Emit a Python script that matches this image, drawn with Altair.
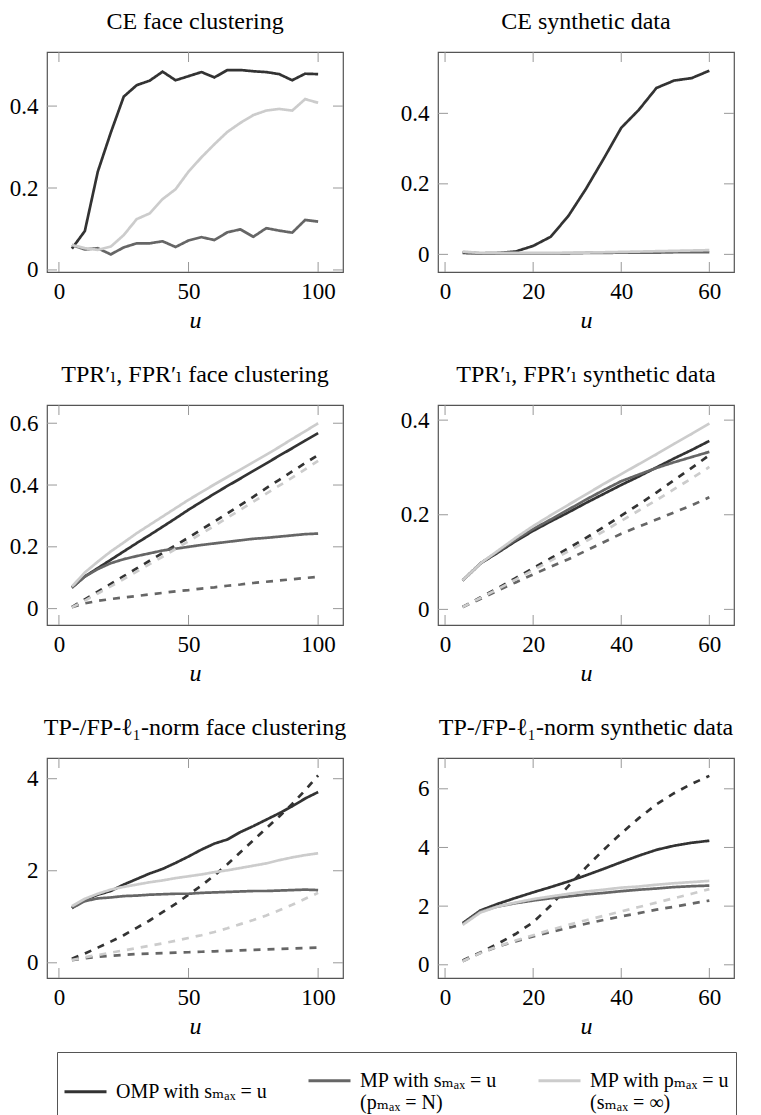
import altair as alt
import pandas as pd

SERIF = "Liberation Serif, DejaVu Serif, Noto Serif, serif"

# ---------------- categories ----------------
METHODS = [
    "OMP with sₘₐₓ = u",
    "MP with sₘₐₓ = u|\u00a0\u00a0\u00a0\u00a0\u00a0\u00a0\u00a0(pₘₐₓ = N)",
    "MP with pₘₐₓ = u|\u00a0\u00a0\u00a0\u00a0\u00a0\u00a0\u00a0(sₘₐₓ = ∞)",
]
COLORS = ["#333333", "#666666", "#cccccc"]
METRICS = ["TP", "FP"]

# ---------------- x values ----------------
u_face = [5, 10, 15, 20, 25, 30, 35, 40, 45, 50, 55, 60, 65, 70, 75, 80, 85, 90, 95, 100]
u_syn = [4, 8, 12, 16, 20, 24, 28, 32, 36, 40, 44, 48, 52, 56, 60]

# ---------------- CE face clustering ----------------
ce_face_omp = [0.052, 0.095, 0.240, 0.335, 0.423, 0.451, 0.462, 0.484, 0.463, 0.473,
               0.483, 0.470, 0.488, 0.488, 0.485, 0.483, 0.478, 0.463, 0.479, 0.478]
ce_face_mps = [0.061, 0.050, 0.053, 0.038, 0.055, 0.065, 0.065, 0.070, 0.056, 0.072,
               0.080, 0.073, 0.092, 0.099, 0.081, 0.102, 0.096, 0.091, 0.122, 0.118]
ce_face_mpp = [0.061, 0.053, 0.049, 0.057, 0.085, 0.124, 0.138, 0.173, 0.197, 0.240,
               0.275, 0.307, 0.337, 0.359, 0.378, 0.389, 0.393, 0.389, 0.417, 0.408]

# ---------------- CE synthetic data ----------------
ce_syn_omp = [0.004, 0.003, 0.004, 0.008, 0.024, 0.050, 0.109, 0.186, 0.271, 0.359,
              0.410, 0.472, 0.493, 0.500, 0.521]
ce_syn_mps = [0.006, 0.003, 0.003, 0.003, 0.003, 0.003, 0.003, 0.004, 0.004, 0.005,
              0.005, 0.005, 0.006, 0.006, 0.006]
ce_syn_mpp = [0.008, 0.004, 0.004, 0.004, 0.004, 0.004, 0.005, 0.005, 0.006, 0.007,
              0.008, 0.009, 0.010, 0.011, 0.012]

# ---------------- TPR / FPR face clustering ----------------
tpr_face_omp = [0.068, 0.104, 0.131, 0.158, 0.185, 0.212, 0.238, 0.265, 0.292, 0.320,
                0.346, 0.372, 0.397, 0.421, 0.446, 0.470, 0.495, 0.519, 0.544, 0.568]
tpr_face_mps = [0.068, 0.104, 0.128, 0.147, 0.160, 0.170, 0.179, 0.188, 0.194, 0.200,
                0.206, 0.211, 0.216, 0.221, 0.226, 0.229, 0.233, 0.237, 0.241, 0.243]
tpr_face_mpp = [0.071, 0.117, 0.152, 0.185, 0.214, 0.244, 0.271, 0.298, 0.325, 0.352,
                0.377, 0.402, 0.426, 0.450, 0.474, 0.498, 0.523, 0.549, 0.574, 0.600]
fpr_face_omp = [0.005, 0.030, 0.055, 0.080, 0.105, 0.130, 0.155, 0.180, 0.205, 0.230,
                0.256, 0.282, 0.308, 0.335, 0.362, 0.390, 0.417, 0.444, 0.471, 0.497]
fpr_face_mps = [0.005, 0.017, 0.025, 0.031, 0.036, 0.041, 0.046, 0.051, 0.056, 0.060,
                0.065, 0.069, 0.074, 0.078, 0.083, 0.087, 0.091, 0.095, 0.099, 0.103]
fpr_face_mpp = [0.004, 0.026, 0.049, 0.072, 0.096, 0.120, 0.144, 0.168, 0.193, 0.218,
                0.243, 0.268, 0.294, 0.320, 0.346, 0.372, 0.398, 0.424, 0.451, 0.478]

# ---------------- TPR / FPR synthetic data ----------------
tpr_syn_omp = [0.061, 0.097, 0.120, 0.144, 0.166, 0.186, 0.205, 0.225, 0.244, 0.263,
               0.281, 0.300, 0.319, 0.337, 0.356]
tpr_syn_mps = [0.061, 0.097, 0.122, 0.147, 0.170, 0.190, 0.211, 0.232, 0.252, 0.271,
               0.285, 0.299, 0.311, 0.322, 0.333]
tpr_syn_mpp = [0.061, 0.097, 0.124, 0.151, 0.176, 0.199, 0.221, 0.243, 0.265, 0.286,
               0.307, 0.328, 0.350, 0.371, 0.393]
fpr_syn_omp = [0.005, 0.025, 0.045, 0.066, 0.087, 0.108, 0.129, 0.151, 0.174, 0.198,
               0.222, 0.247, 0.273, 0.299, 0.326]
fpr_syn_mps = [0.005, 0.022, 0.040, 0.057, 0.074, 0.090, 0.106, 0.124, 0.142, 0.160,
               0.175, 0.190, 0.205, 0.220, 0.237]
fpr_syn_mpp = [0.005, 0.024, 0.043, 0.063, 0.083, 0.103, 0.123, 0.144, 0.165, 0.187,
               0.209, 0.231, 0.254, 0.277, 0.301]

# ---------------- TP-/FP-l1-norm face clustering ----------------
tp_face_omp = [1.19, 1.37, 1.48, 1.56, 1.70, 1.82, 1.94, 2.04, 2.17, 2.31,
               2.46, 2.59, 2.68, 2.84, 2.97, 3.11, 3.25, 3.40, 3.57, 3.71]
tp_face_mps = [1.19, 1.34, 1.40, 1.42, 1.45, 1.46, 1.48, 1.49, 1.50, 1.50,
               1.52, 1.53, 1.54, 1.55, 1.56, 1.56, 1.57, 1.58, 1.59, 1.58]
tp_face_mpp = [1.23, 1.39, 1.50, 1.59, 1.65, 1.70, 1.75, 1.79, 1.84, 1.88,
               1.92, 1.97, 2.01, 2.06, 2.11, 2.16, 2.23, 2.29, 2.34, 2.38]
fp_face_omp = [0.09, 0.20, 0.33, 0.46, 0.60, 0.76, 0.92, 1.10, 1.28, 1.48,
               1.68, 1.90, 2.14, 2.40, 2.66, 2.92, 3.18, 3.45, 3.75, 4.07]
fp_face_mps = [0.06, 0.10, 0.13, 0.15, 0.17, 0.19, 0.20, 0.21, 0.22, 0.23,
               0.24, 0.25, 0.26, 0.27, 0.28, 0.29, 0.30, 0.31, 0.32, 0.33]
fp_face_mpp = [0.06, 0.12, 0.17, 0.22, 0.27, 0.32, 0.37, 0.42, 0.48, 0.54,
               0.60, 0.67, 0.75, 0.84, 0.93, 1.03, 1.14, 1.26, 1.39, 1.52]

# ---------------- TP-/FP-l1-norm synthetic data ----------------
tp_syn_omp = [1.42, 1.85, 2.08, 2.28, 2.47, 2.65, 2.84, 3.05, 3.27, 3.50,
              3.72, 3.92, 4.06, 4.16, 4.23]
tp_syn_mps = [1.39, 1.82, 1.99, 2.10, 2.19, 2.27, 2.33, 2.40, 2.45, 2.51,
              2.56, 2.60, 2.65, 2.68, 2.70]
tp_syn_mpp = [1.36, 1.78, 1.99, 2.12, 2.24, 2.33, 2.42, 2.50, 2.56, 2.63,
              2.67, 2.73, 2.78, 2.82, 2.86]
fp_syn_omp = [0.15, 0.42, 0.72, 1.05, 1.45, 2.02, 2.68, 3.32, 3.92, 4.48,
              5.00, 5.47, 5.85, 6.17, 6.44]
fp_syn_mps = [0.12, 0.40, 0.62, 0.80, 0.97, 1.12, 1.26, 1.40, 1.53, 1.65,
              1.76, 1.88, 1.98, 2.09, 2.19]
fp_syn_mpp = [0.12, 0.40, 0.63, 0.83, 1.01, 1.19, 1.36, 1.52, 1.67, 1.82,
              1.97, 2.12, 2.27, 2.42, 2.58]

# ---------------- ticks ----------------
xt_face = [0, 50, 100]
xt_syn = [0, 20, 40, 60]
yt_ce = [0, 0.2, 0.4]
yt_tpr_face = [0, 0.2, 0.4, 0.6]
yt_tpr_syn = [0, 0.2, 0.4]
yt_l1_face = [0, 2, 4]
yt_l1_syn = [0, 2, 4, 6]

W, H = 296, 220
TICK = 10


def make_df(u, series):
    rows = []
    for m, metric, vals in series:
        for x, v in zip(u, vals):
            rows.append({"u": x, "value": v, "method": METHODS[m], "metric": metric})
    return pd.DataFrame(rows)


LEGEND = alt.Legend(
    title=None, orient="none", legendX=10, legendY=1000, direction="horizontal",
    symbolType="stroke", symbolSize=1764, symbolStrokeWidth=3,
    labelFont=SERIF, labelFontSize=20, labelColor="black", labelLimit=0,
    labelExpr="split(datum.label, '|')", labelOffset=8, columnPadding=34,
    padding=6, strokeColor="#555555",
)


def x_axis(vals):
    return alt.Axis(values=vals, format=".2~f", orient="bottom", ticks=False, tickSize=0,
                    domain=False, grid=False, labelFont=SERIF, labelFontSize=23,
                    labelColor="black", labelFlush=False, labelOverlap=False, labelPadding=8,
                    title="u", titleFont=SERIF, titleFontSize=24, titleFontStyle="italic",
                    titleFontWeight="normal", titleColor="black", titleY=55,
                    titleBaseline="alphabetic")


def y_axis(vals):
    return alt.Axis(values=vals, format=".2~f", orient="left", ticks=False, tickSize=0,
                    domain=False, grid=False, labelFont=SERIF, labelFontSize=23,
                    labelColor="black", labelFlush=False, labelOverlap=False, labelPadding=9,
                    title=None)


def panel(df, title, xdom, ydom, xt, yt):
    xs = alt.Scale(domain=xdom, nice=False, zero=False)
    ys = alt.Scale(domain=ydom, nice=False, zero=False)
    xa, ya = x_axis(xt), y_axis(yt)
    main = alt.Chart(df).mark_line(strokeWidth=2.7, strokeCap="butt").encode(
        x=alt.X("u:Q", scale=xs, axis=xa),
        y=alt.Y("value:Q", scale=ys, axis=ya),
        color=alt.Color("method:N", scale=alt.Scale(domain=METHODS, range=COLORS), legend=LEGEND),
        strokeDash=alt.StrokeDash("metric:N", scale=alt.Scale(domain=METRICS, range=[[1, 0], [7, 7]]), legend=None),
    )
    ty = alt.Chart(pd.DataFrame({"t": yt})).mark_rule(color="#999999", strokeWidth=1)
    tx = alt.Chart(pd.DataFrame({"t": xt})).mark_rule(color="#999999", strokeWidth=1)
    ty_l = ty.encode(y=alt.Y("t:Q", scale=ys, axis=ya), x=alt.value(0), x2=alt.value(TICK))
    ty_r = ty.encode(y=alt.Y("t:Q", scale=ys, axis=ya), x=alt.value(W - TICK), x2=alt.value(W))
    tx_b = tx.encode(x=alt.X("t:Q", scale=xs, axis=xa), y=alt.value(H - TICK), y2=alt.value(H))
    tx_t = tx.encode(x=alt.X("t:Q", scale=xs, axis=xa), y=alt.value(0), y2=alt.value(TICK))
    return alt.layer(main, ty_l, ty_r, tx_b, tx_t).properties(
        width=W, height=H,
        title=alt.TitleParams(title, font=SERIF, fontSize=24, fontWeight="normal", color="black",
                              anchor="middle", frame="group", offset=-1, baseline="alphabetic"),
    )


XF = [-4.6, 109.6]
XS = [-1.6, 65.6]

p1 = panel(make_df(u_face, [(0, "TP", ce_face_omp), (1, "TP", ce_face_mps), (2, "TP", ce_face_mpp)]),
           "CE face clustering", XF, [-0.005, 0.532], xt_face, yt_ce)
p2 = panel(make_df(u_syn, [(0, "TP", ce_syn_omp), (1, "TP", ce_syn_mps), (2, "TP", ce_syn_mpp)]),
           "CE synthetic data", XS, [-0.05, 0.574], xt_syn, yt_ce)
p3 = panel(make_df(u_face, [(0, "TP", tpr_face_omp), (0, "FP", fpr_face_omp),
                            (1, "TP", tpr_face_mps), (1, "FP", fpr_face_mps),
                            (2, "TP", tpr_face_mpp), (2, "FP", fpr_face_mpp)]),
           "TPR′ₗ, FPR′ₗ face clustering", XF, [-0.053, 0.659], xt_face, yt_tpr_face)
p4 = panel(make_df(u_syn, [(0, "TP", tpr_syn_omp), (0, "FP", fpr_syn_omp),
                           (1, "TP", tpr_syn_mps), (1, "FP", fpr_syn_mps),
                           (2, "TP", tpr_syn_mpp), (2, "FP", fpr_syn_mpp)]),
           "TPR′ₗ, FPR′ₗ synthetic data", XS, [-0.033, 0.432], xt_syn, yt_tpr_syn)
p5 = panel(make_df(u_face, [(0, "TP", tp_face_omp), (0, "FP", fp_face_omp),
                            (1, "TP", tp_face_mps), (1, "FP", fp_face_mps),
                            (2, "TP", tp_face_mpp), (2, "FP", fp_face_mpp)]),
           "TP-/FP-ℓ₁-norm face clustering", XF, [-0.33, 4.45], xt_face, yt_l1_face)
p6 = panel(make_df(u_syn, [(0, "TP", tp_syn_omp), (0, "FP", fp_syn_omp),
                           (1, "TP", tp_syn_mps), (1, "FP", fp_syn_mps),
                           (2, "TP", tp_syn_mpp), (2, "FP", fp_syn_mpp)]),
           "TP-/FP-ℓ₁-norm synthetic data", XS, [-0.45, 7.05], xt_syn, yt_l1_syn)

chart = alt.concat(p1, p2, p3, p4, p5, p6, columns=2,
                   spacing={"row": 133, "column": 95}, bounds="flush").properties(
    padding={"left": 0, "top": 0, "right": 0, "bottom": 0}
).configure_view(stroke="#555555", strokeWidth=1.2)

chart.save("out.html", embed_options={"renderer": "svg", "actions": False})
